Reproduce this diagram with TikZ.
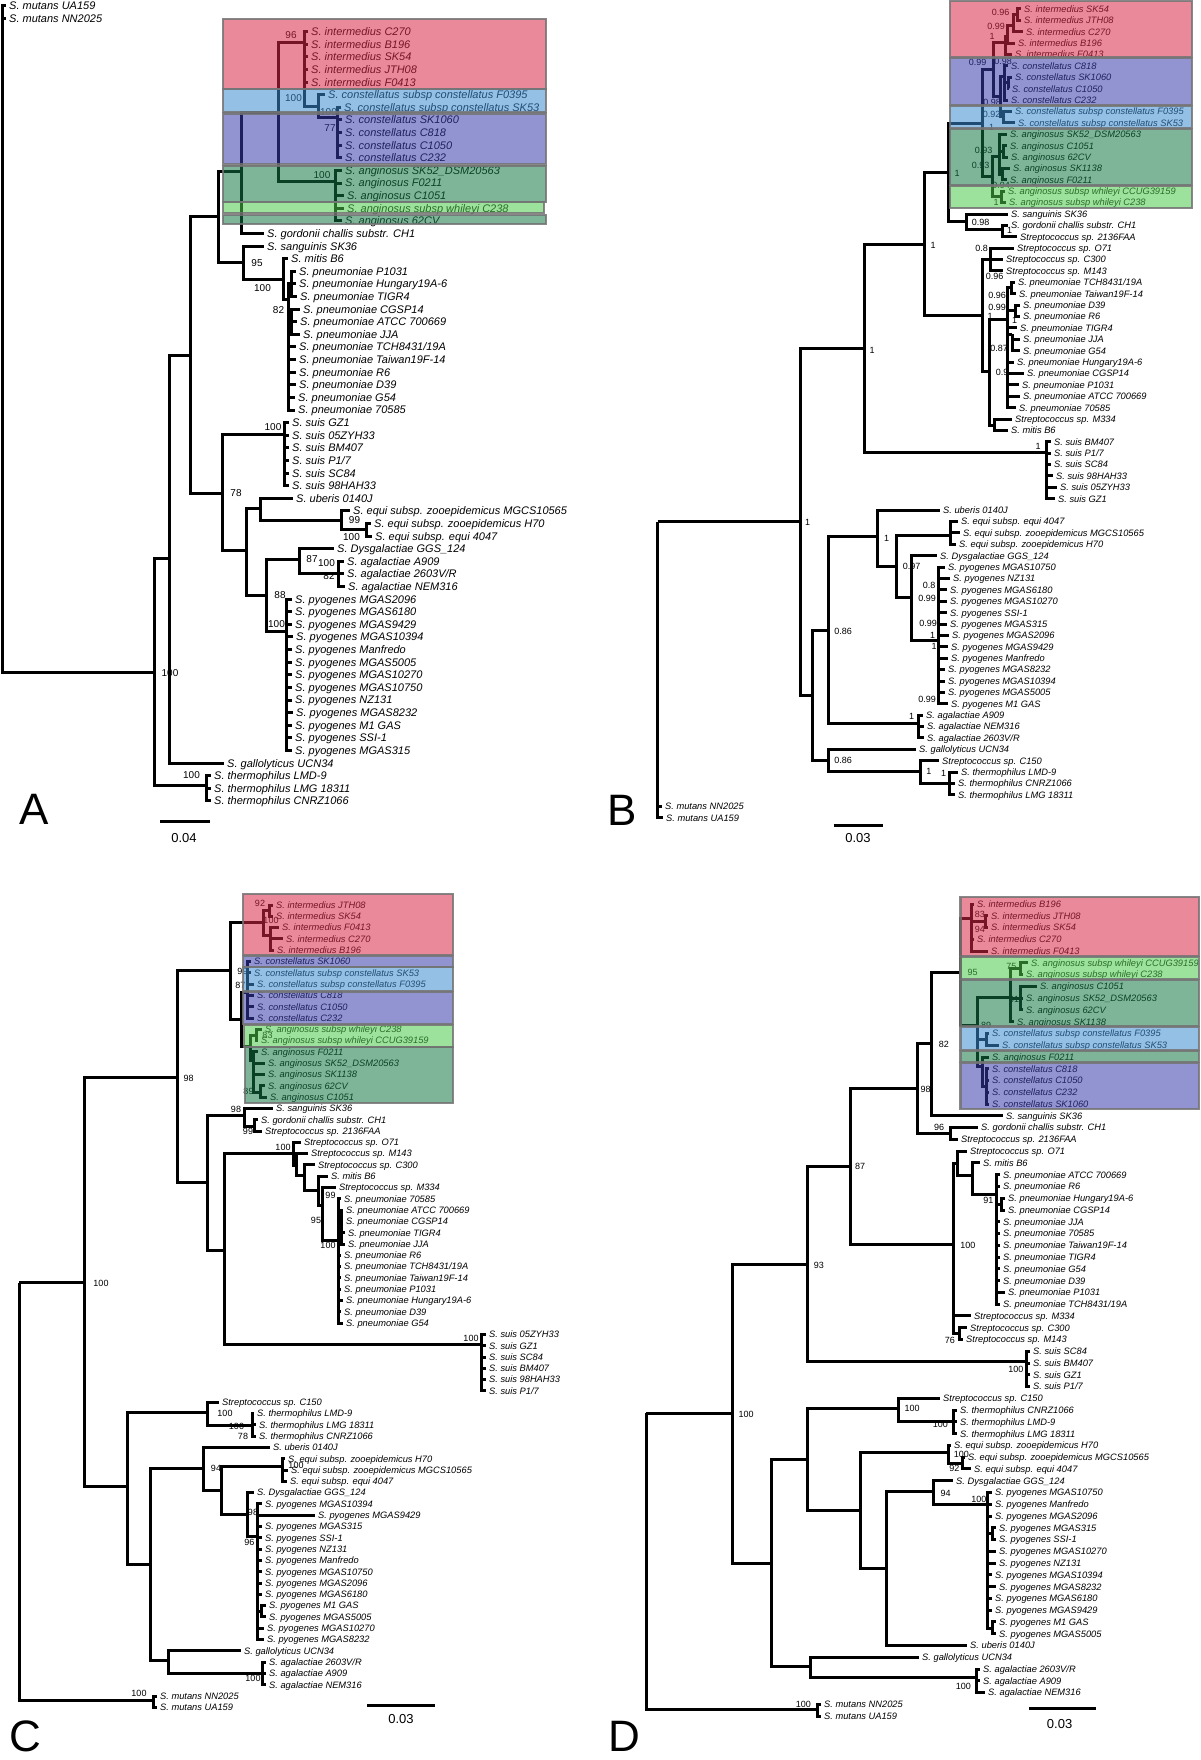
\documentclass[tikz,border=0pt]{standalone}
\usepackage{fontspec}
\setmainfont{Liberation Sans}
\usepackage{xcolor}
\usepackage{tikz}
\definecolor{cladered}{RGB}{215,40,70}
\definecolor{cladeblue}{RGB}{60,140,210}
\definecolor{cladepurple}{RGB}{55,60,170}
\definecolor{cladegreen}{RGB}{20,120,70}
\definecolor{cladelime}{RGB}{75,200,75}
\newcommand\lfA{\fontsize{11}{13}\selectfont\itshape}
\newcommand\lfB{\fontsize{9.3}{11}\selectfont\itshape}
\newcommand\bsA{\fontsize{10}{12}\selectfont}
\newcommand\bsB{\fontsize{9}{11}\selectfont}

\begin{document}
\begin{tikzpicture}[x=1pt,y=-1pt,
  br/.style={line width=3pt},
  leafA/.style={anchor=west,inner xsep=3pt,inner ysep=0pt,text height=7.9pt,text depth=0pt,font=\lfA},
  leafB/.style={anchor=west,inner xsep=3pt,inner ysep=0pt,text height=6.7pt,text depth=0pt,font=\lfB},
  supA/.style={inner sep=0pt,font=\bsA},
  supB/.style={inner sep=0pt,font=\bsB},
  clade/.style={fill opacity=0.55,draw=black!55,draw opacity=0.85,line width=2.2pt},
  panel/.style={inner sep=0pt,font=\fontsize{44}{44}\selectfont},
  scalelbl/.style={inner sep=0pt,font=\fontsize{13}{15}\selectfont}]
\useasboundingbox (0,0) rectangle (1200,1760);

% panel A
\foreach \i/\xx/\nm in {0/308/{S. intermedius C270},1/308/{S. intermedius B196},2/308/{S. intermedius SK54},3/308/{S. intermedius JTH08},4/308/{S. intermedius F0413},
  5/325/{S. constellatus subsp constellatus F0395},6/341/{S. constellatus subsp constellatus SK53},
  7/342/{S. constellatus SK1060},8/342/{S. constellatus C818},9/342/{S. constellatus C1050},10/342/{S. constellatus C232},
  11/342/{S. anginosus SK52\_DSM20563},12/342/{S. anginosus F0211},13/344/{S. anginosus C1051},14/344/{S. anginosus subsp whileyi C238},15/342/{S. anginosus 62CV},
  16/264/{S. gordonii challis substr. CH1},17/264/{S. sanguinis SK36},18/288/{S. mitis B6},
  19/296/{S. pneumoniae P1031},20/296/{S. pneumoniae Hungary19A-6},21/297/{S. pneumoniae TIGR4},22/300/{S. pneumoniae CGSP14},23/297/{S. pneumoniae ATCC 700669},24/300/{S. pneumoniae JJA},25/296/{S. pneumoniae TCH8431/19A},26/296/{S. pneumoniae Taiwan19F-14},27/296/{S. pneumoniae R6},28/296/{S. pneumoniae D39},29/295/{S. pneumoniae G54},30/295/{S. pneumoniae 70585},
  31/289/{S. suis GZ1},32/289/{S. suis 05ZYH33},33/289/{S. suis BM407},34/289/{S. suis P1/7},35/289/{S. suis SC84},36/289/{S. suis 98HAH33},
  37/293/{S. uberis 0140J},38/350/{S. equi subsp. zooepidemicus MGCS10565},39/371/{S. equi subsp. zooepidemicus H70},40/372/{S. equi subsp. equi 4047},
  41/334/{S. Dysgalactiae GGS\_124},42/344/{S. agalactiae A909},43/344/{S. agalactiae 2603V/R},44/345/{S. agalactiae NEM316},
  45/292/{S. pyogenes MGAS2096},46/292/{S. pyogenes MGAS6180},47/292/{S. pyogenes MGAS9429},48/293/{S. pyogenes MGAS10394},49/292/{S. pyogenes Manfredo},50/292/{S. pyogenes MGAS5005},51/292/{S. pyogenes MGAS10270},52/292/{S. pyogenes MGAS10750},53/292/{S. pyogenes NZ131},54/293/{S. pyogenes MGAS8232},55/292/{S. pyogenes M1 GAS},56/292/{S. pyogenes SSI-1},57/292/{S. pyogenes MGAS315},
  58/224/{S. gallolyticus UCN34},59/211/{S. thermophilus LMD-9},60/211/{S. thermophilus LMG 18311},61/211/{S. thermophilus CNRZ1066}}
  \node[leafA] (Al\i) at (\xx,{31.7+12.61*\i}) {\nm};
\node[leafA] (Am1) at (6,6) {S. mutans UA159};
\node[leafA] (Am2) at (6,19) {S. mutans NN2025};

\coordinate (Ar) at (2,400);
\coordinate (An1) at (154,672);
\coordinate (An2) at (169,558);
\coordinate (An3) at (190,355);
\coordinate (An4) at (218,217);
\coordinate (An5) at (222,493);
\coordinate (An6) at (241,172);
\coordinate (An7) at (243,263);
\coordinate (An8) at (278,113);
\coordinate (An9) at (304,43);
\coordinate (An10) at (318.5,107);
\coordinate (An11) at (337.7,118);
\coordinate (Ang) at (335,182);
\coordinate (An7b) at (283.5,280);
\coordinate (Apn) at (288.5,300);
\coordinate (Ap1) at (291.5,284);
\coordinate (Ap2) at (291.5,321.7);
\coordinate (Asu) at (284.6,434);
\coordinate (An5b) at (246,550);
\coordinate (An5c) at (260.4,508);
\coordinate (An5d) at (266.5,595);
\coordinate (Aeq) at (341.5,520);
\coordinate (Aeq2) at (366.5,529.8);
\coordinate (Ady) at (299,559);
\coordinate (Aag) at (338.5,573.9);
\coordinate (Apy) at (286.5,631);
\coordinate (Ath) at (206,785);

\draw[br] (Ar) |- (Am1.west) (Ar) |- (Am2.west) (Ar) |- (An1);
\draw[br] (An1) |- (An2) (An1) |- (Ath);
\draw[br] (An2) |- (An3) (An2) |- (Al58.west);
\draw[br] (An3) |- (An4) (An3) |- (An5);
\draw[br] (An4) |- (An6) (An4) |- (An7);
\draw[br] (An6) |- (An8) (An6) |- (Al16.west);
\draw[br] (An8) |- (An9) (An8) |- (Ang);
\draw[br] (An9) |- (An10);
\foreach \k in {0,...,4} \draw[br] (An9) |- (Al\k.west);
\draw[br] (An10) |- (Al5.west) (An10) |- (An11);
\foreach \k in {6,...,10} \draw[br] (An11) |- (Al\k.west);
\foreach \k in {11,...,15} \draw[br] (Ang) |- (Al\k.west);
\draw[br] (An7) |- (Al17.west) (An7) |- (An7b);
\draw[br] (An7b) |- (Al18.west) (An7b) |- (Apn);
\draw[br] (Apn) |- (Ap1) (Apn) |- (Ap2);
\foreach \k in {19,20,21} \draw[br] (Ap1) |- (Al\k.west);
\foreach \k in {22,23,24} \draw[br] (Ap2) |- (Al\k.west);
\foreach \k in {25,...,30} \draw[br] (Apn) |- (Al\k.west);
\draw[br] (An5) |- (Asu) (An5) |- (An5b);
\foreach \k in {31,...,36} \draw[br] (Asu) |- (Al\k.west);
\draw[br] (An5b) |- (An5c) (An5b) |- (An5d);
\draw[br] (An5c) |- (Al37.west) (An5c) |- (Aeq);
\draw[br] (Aeq) |- (Al38.west) (Aeq) |- (Aeq2);
\draw[br] (Aeq2) |- (Al39.west) (Aeq2) |- (Al40.west);
\draw[br] (An5d) |- (Ady) (An5d) |- (Apy);
\draw[br] (Ady) |- (Al41.west) (Ady) |- (Aag);
\foreach \k in {42,43,44} \draw[br] (Aag) |- (Al\k.west);
\foreach \k in {45,...,57} \draw[br] (Apy) |- (Al\k.west);
\foreach \k in {59,60,61} \draw[br] (Ath) |- (Al\k.west);

\foreach \bn/\bx/\by/\bv in {1/291/35/96,2/293.5/98/100,3/328.5/112/100,4/330/128/77,5/322/175/100,6/257/263/95,7/262.5/288/100,8/278.5/310/82,
  9/273/427/100,10/236/493/78,11/354.5/520/99,12/351.5/537/100,13/312/559/87,14/326.5/563/100,15/329/576/82,16/280/595/88,17/276.5/624/100,
  18/170/673/100,19/191.5/775/100}
  \node[supA] (Ab\bn) at (\bx,\by) {\bv};

\draw[clade,fill=cladered] (223,19) rectangle (546,89);
\draw[clade,fill=cladeblue] (223,89) rectangle (546,112);
\draw[clade,fill=cladepurple] (223,113.5) rectangle (546,164.5);
\draw[clade,fill=cladegreen] (223,166) rectangle (546,202);
\draw[clade,fill=cladelime] (223,202) rectangle (544,213);
\draw[clade,fill=cladegreen] (223,215) rectangle (546,224);

\coordinate (Asb1) at (160,821);
\coordinate (Asb2) at (210,821);
\draw[br] (Asb1) -- (Asb2);
\node[scalelbl] (Asbl) at (184,838) {0.04};
\node[panel] (Alab) at (34.5,809) {A};

% panel B
\foreach \i/\xx/\nm in {0/1021/{S. intermedius SK54},1/1021/{S. intermedius JTH08},2/1023/{S. intermedius C270},3/1015/{S. intermedius B196},4/1012/{S. intermedius F0413},
  5/1008/{S. constellatus C818},6/1012/{S. constellatus SK1060},7/1009/{S. constellatus C1050},8/1008/{S. constellatus C232},
  9/1012/{S. constellatus subsp constellatus F0395},10/1015/{S. constellatus subsp constellatus SK53},
  11/1007/{S. anginosus SK52\_DSM20563},12/1007/{S. anginosus C1051},13/1008/{S. anginosus 62CV},14/1010/{S. anginosus SK1138},15/1007/{S. anginosus F0211},
  16/1005/{S. anginosus subsp whileyi CCUG39159},17/1006/{S. anginosus subsp whileyi C238},
  18/1008/{S. sanguinis SK36},19/1008/{S. gordonii challis substr. CH1},20/1017/{Streptococcus sp. 2136FAA},
  21/1014/{Streptococcus sp. O71},22/1003/{Streptococcus sp. C300},23/1003/{Streptococcus sp. M143},
  24/1015/{S. pneumoniae TCH8431/19A},25/1016/{S. pneumoniae Taiwan19F-14},26/1020/{S. pneumoniae D39},27/1020/{S. pneumoniae R6},28/1017/{S. pneumoniae TIGR4},29/1020/{S. pneumoniae JJA},30/1020/{S. pneumoniae G54},31/1014/{S. pneumoniae Hungary19A-6},32/1024/{S. pneumoniae CGSP14},33/1019/{S. pneumoniae P1031},34/1020/{S. pneumoniae ATCC 700669},35/1016/{S. pneumoniae 70585},
  36/1012/{Streptococcus sp. M334},37/1008/{S. mitis B6},
  38/1051/{S. suis BM407},39/1051/{S. suis P1/7},40/1051/{S. suis SC84},41/1053/{S. suis 98HAH33},42/1057/{S. suis 05ZYH33},43/1055/{S. suis GZ1},
  44/940/{S. uberis 0140J},45/958/{S. equi subsp. equi 4047},46/960/{S. equi subsp. zooepidemicus MGCS10565},47/956/{S. equi subsp. zooepidemicus H70},
  48/937/{S. Dysgalactiae GGS\_124},
  49/945/{S. pyogenes MGAS10750},50/950/{S. pyogenes NZ131},51/947/{S. pyogenes MGAS6180},52/947/{S. pyogenes MGAS10270},53/947/{S. pyogenes SSI-1},54/947/{S. pyogenes MGAS315},55/949/{S. pyogenes MGAS2096},56/948/{S. pyogenes MGAS9429},57/948/{S. pyogenes Manfredo},58/945/{S. pyogenes MGAS8232},59/945/{S. pyogenes MGAS10394},60/945/{S. pyogenes MGAS5005},61/948/{S. pyogenes M1 GAS},
  62/923/{S. agalactiae A909},63/924/{S. agalactiae NEM316},64/924/{S. agalactiae 2603V/R},
  65/916/{S. gallolyticus UCN34},66/939/{Streptococcus sp. C150},67/958/{S. thermophilus LMD-9},68/955/{S. thermophilus CNRZ1066},69/955/{S. thermophilus LMG 18311},
  70/662/{S. mutans NN2025},71/663/{S. mutans UA159}}
  \node[leafB] (Bl\i) at (\xx,{9+11.39*\i}) {\nm};

\coordinate (Bn0) at (657.7,521.7);
\coordinate (Bn1) at (800,521.7);
\coordinate (Bn2) at (864.6,348.3);
\coordinate (Bsu) at (1046,452.7);
\coordinate (Bn4) at (924,245);
\coordinate (Bn5) at (948,172.3);
\coordinate (Bn6) at (982.7,316);
\coordinate (Bc) at (982,123.3);
\coordinate (Bsg) at (966.5,221.7);
\coordinate (Bgo) at (1002,230);
\coordinate (Bic) at (993,70);
\coordinate (Bi4) at (1005.8,42.7);
\coordinate (Bi3) at (1007.7,37);
\coordinate (Bi2) at (1013,26);
\coordinate (Bi1) at (1017,14.7);
\coordinate (Bc1) at (1000,96.7);
\coordinate (Bc2) at (1004,76.7);
\coordinate (Bc3) at (1008,83);
\coordinate (Bcs) at (1003,117);
\coordinate (Bang) at (992.3,176.7);
\coordinate (Ba1) at (999,156.7);
\coordinate (Ba2) at (1003,151.4);
\coordinate (Ba3) at (1002,174.2);
\coordinate (Bw) at (1001,196.9);
\coordinate (Bst) at (990.4,259.6);
\coordinate (Bpm) at (989.6,371.7);
\coordinate (Bmm) at (994,425);
\coordinate (Bpn) at (1007.7,319.3);
\coordinate (Bp1) at (1011.5,288);
\coordinate (Bp2) at (1015,311);
\coordinate (Bp3) at (1012,334);
\coordinate (Bn3) at (812.7,695);
\coordinate (Bn7) at (828.8,630);
\coordinate (Bag) at (918.5,723.3);
\coordinate (Bn8) at (877.7,536.7);
\coordinate (Bn9) at (896,566.7);
\coordinate (Beq) at (950.8,535);
\coordinate (Bn10) at (911.5,597.3);
\coordinate (Bpy) at (938.5,640);
\coordinate (Bn11) at (828.8,760);
\coordinate (Bth) at (920.4,771);
\coordinate (Bth2) at (949,783.5);

\draw[br] (Bn0) -- (Bn1) (Bn0) |- (Bl70.west) (Bn0) |- (Bl71.west);
\draw[br] (Bn1) |- (Bn2) (Bn1) |- (Bn3);
\draw[br] (Bn2) |- (Bn4) (Bn2) |- (Bsu);
\foreach \k in {38,...,43} \draw[br] (Bsu) |- (Bl\k.west);
\draw[br] (Bn4) |- (Bn5) (Bn4) |- (Bn6);
\draw[br] (Bn5) |- (Bc) (Bn5) |- (Bsg);
\draw[br] (Bsg) |- (Bl18.west) (Bsg) |- (Bgo);
\draw[br] (Bgo) |- (Bl19.west) (Bgo) |- (Bl20.west);
\draw[br] (Bc) |- (Bic) (Bc) |- (Bang);
\draw[br] (Bic) |- (Bi4) (Bic) |- (Bc1);
\draw[br] (Bi4) |- (Bi3) (Bi4) |- (Bl4.west);
\draw[br] (Bi3) |- (Bi2) (Bi3) |- (Bl3.west);
\draw[br] (Bi2) |- (Bi1) (Bi2) |- (Bl2.west);
\draw[br] (Bi1) |- (Bl0.west) (Bi1) |- (Bl1.west);
\draw[br] (Bc1) |- (Bc2) (Bc1) |- (Bcs);
\draw[br] (Bc2) |- (Bl5.west) (Bc2) |- (Bc3) (Bc2) |- (Bl8.west);
\draw[br] (Bc3) |- (Bl6.west) (Bc3) |- (Bl7.west);
\draw[br] (Bcs) |- (Bl9.west) (Bcs) |- (Bl10.west);
\draw[br] (Bang) |- (Ba1) (Bang) |- (Bw);
\draw[br] (Ba1) |- (Bl11.west) (Ba1) |- (Ba2) (Ba1) |- (Ba3);
\draw[br] (Ba2) |- (Bl12.west) (Ba2) |- (Bl13.west);
\draw[br] (Ba3) |- (Bl14.west) (Ba3) |- (Bl15.west);
\draw[br] (Bw) |- (Bl16.west) (Bw) |- (Bl17.west);
\draw[br] (Bn6) |- (Bst) (Bn6) |- (Bpm);
\foreach \k in {21,22,23} \draw[br] (Bst) |- (Bl\k.west);
\draw[br] (Bpm) |- (Bpn) (Bpm) |- (Bmm);
\draw[br] (Bmm) |- (Bl36.west) (Bmm) |- (Bl37.west);
\draw[br] (Bpn) |- (Bp1) (Bpn) |- (Bp2) (Bpn) |- (Bp3);
\draw[br] (Bp1) |- (Bl24.west) (Bp1) |- (Bl25.west);
\draw[br] (Bp2) |- (Bl26.west) (Bp2) |- (Bl27.west);
\draw[br] (Bp3) |- (Bl29.west) (Bp3) |- (Bl30.west);
\foreach \k in {28,31,32,33,34,35} \draw[br] (Bpn) |- (Bl\k.west);
\draw[br] (Bn3) |- (Bn7) (Bn3) |- (Bn11);
\draw[br] (Bn7) |- (Bn8) (Bn7) |- (Bag);
\foreach \k in {62,63,64} \draw[br] (Bag) |- (Bl\k.west);
\draw[br] (Bn8) |- (Bl44.west) (Bn8) |- (Bn9);
\draw[br] (Bn9) |- (Beq) (Bn9) |- (Bn10);
\foreach \k in {45,46,47} \draw[br] (Beq) |- (Bl\k.west);
\draw[br] (Bn10) |- (Bl48.west) (Bn10) |- (Bpy);
\foreach \k in {49,...,61} \draw[br] (Bpy) |- (Bl\k.west);
\draw[br] (Bn11) |- (Bl65.west) (Bn11) |- (Bth);
\draw[br] (Bth) |- (Bl66.west) (Bth) |- (Bth2);
\foreach \k in {67,68,69} \draw[br] (Bth2) |- (Bl\k.west);

\foreach \bn/\bx/\by/\bv in {1/1000.5/12.7/0.96,2/996/26.7/0.99,3/992/36.7/1,4/977.5/62.3/0.99,5/1003/61.7/0.98,6/992/102.7/0.98,7/991.5/114/0.92,
  8/991.5/127.7/1,9/983.5/150/0.93,10/980.5/165.7/0.93,11/1001/185/0.94,12/996/202.3/1,13/957/173/1,14/980.5/222.7/0.98,15/1009.6/230/1,
  16/933/245.7/1,17/981.5/248.3/0.8,18/994.5/276.7/0.96,19/997/295/0.96,20/997/307.3/0.99,21/990/316/1,22/1014.6/320.7/1,23/999/348.7/0.87,
  24/1002/372.7/0.9,25/872/350/1,26/1038/446.7/1,27/807.7/522.3/1,28/886.5/538.3/1,29/911.5/566.7/0.97,30/929/585.5/0.8,31/927/598.3/0.99,
  32/928/623.7/0.99,33/932.7/635/1,34/934/646.7/1,35/927/699.3/0.99,36/843/631/0.86,37/911.5/716/1,38/843/760/0.86,39/928.8/771/1,40/943.5/773.3/1}
  \node[supB] (Bb\bn) at (\bx,\by) {\bv};

\draw[clade,fill=cladered] (950,1) rectangle (1192,57.3);
\draw[clade,fill=cladepurple] (950,58.3) rectangle (1192,105);
\draw[clade,fill=cladeblue] (950,106) rectangle (1192,128.3);
\draw[clade,fill=cladegreen] (950,129.3) rectangle (1192,185);
\draw[clade,fill=cladelime] (950,186) rectangle (1192,208.3);

\coordinate (Bsb1) at (833.5,825.7);
\coordinate (Bsb2) at (882.7,825.7);
\draw[br] (Bsb1) -- (Bsb2);
\node[scalelbl] (Bsbl) at (858,838) {0.03};
\node[panel] (Blab) at (622,810) {B};

% panel C
\foreach \i/\xx/\nm in {0/273/{S. intermedius JTH08},1/273/{S. intermedius SK54},2/279/{S. intermedius F0413},3/283/{S. intermedius C270},4/274/{S. intermedius B196},
  5/251/{S. constellatus SK1060},6/251/{S. constellatus subsp constellatus SK53},7/254/{S. constellatus subsp constellatus F0395},8/254/{S. constellatus C818},9/254/{S. constellatus C1050},10/254/{S. constellatus C232},
  11/262/{S. anginosus subsp whileyi C238},12/258/{S. anginosus subsp whileyi CCUG39159},13/258/{S. anginosus F0211},14/265/{S. anginosus SK52\_DSM20563},15/265/{S. anginosus SK1138},16/265/{S. anginosus 62CV},17/267/{S. anginosus C1051},
  18/273/{S. sanguinis SK36},19/258/{S. gordonii challis substr. CH1},20/262/{Streptococcus sp. 2136FAA},
  21/301/{Streptococcus sp. O71},22/308/{Streptococcus sp. M143},23/315/{Streptococcus sp. C300},24/328/{S. mitis B6},25/336/{Streptococcus sp. M334},
  26/341/{S. pneumoniae 70585},27/343/{S. pneumoniae ATCC 700669},28/343/{S. pneumoniae CGSP14},29/345/{S. pneumoniae TIGR4},30/345/{S. pneumoniae JJA},31/341/{S. pneumoniae R6},32/341/{S. pneumoniae TCH8431/19A},33/341/{S. pneumoniae Taiwan19F-14},34/341/{S. pneumoniae P1031},35/343/{S. pneumoniae Hungary19A-6},36/341/{S. pneumoniae D39},37/343/{S. pneumoniae G54},
  38/486/{S. suis 05ZYH33},39/486/{S. suis GZ1},40/486/{S. suis SC84},41/486/{S. suis BM407},42/486/{S. suis 98HAH33},43/486/{S. suis P1/7},
  44/219/{Streptococcus sp. C150},45/254/{S. thermophilus LMD-9},46/256/{S. thermophilus LMG 18311},47/256/{S. thermophilus CNRZ1066},
  48/270/{S. uberis 0140J},49/285/{S. equi subsp. zooepidemicus H70},50/288/{S. equi subsp. zooepidemicus MGCS10565},51/287/{S. equi subsp. equi 4047},
  52/254/{S. Dysgalactiae GGS\_124},53/262/{S. pyogenes MGAS10394},54/315/{S. pyogenes MGAS9429},55/262/{S. pyogenes MGAS315},56/262/{S. pyogenes SSI-1},57/262/{S. pyogenes NZ131},58/262/{S. pyogenes Manfredo},59/262/{S. pyogenes MGAS10750},60/262/{S. pyogenes MGAS2096},61/262/{S. pyogenes MGAS6180},62/266/{S. pyogenes M1 GAS},63/266/{S. pyogenes MGAS5005},64/264/{S. pyogenes MGAS10270},65/264/{S. pyogenes MGAS8232},
  66/241/{S. gallolyticus UCN34},67/266/{S. agalactiae 2603V/R},68/266/{S. agalactiae A909},69/266/{S. agalactiae NEM316},
  70/157/{S. mutans NN2025},71/157/{S. mutans UA159}}
  \node[leafB] (Cl\i) at (\xx,{905+11.3*\i}) {\nm};

\coordinate (Cn0) at (19.2,1282.7);
\coordinate (Cn1) at (84.6,1282.7);
\coordinate (Cmu) at (153.8,1700);
\coordinate (Cn2) at (177,1077.3);
\coordinate (Cn3) at (127,1486.7);
\coordinate (Cn4) at (230.8,970);
\coordinate (Cn5) at (207.7,1182.7);
\coordinate (Cint) at (263.5,922.7);
\coordinate (Ci1) at (269,910.7);
\coordinate (Ci2) at (270.4,935);
\coordinate (Cn6) at (241.5,1019.3);
\coordinate (Ccon) at (247.3,992.7);
\coordinate (Cang) at (250,1046.7);
\coordinate (Cw) at (256,1035);
\coordinate (Ca1) at (253,1060);
\coordinate (Ca2) at (260,1092);
\coordinate (Csg) at (244,1115);
\coordinate (Cgo) at (254,1126.7);
\coordinate (Cn7) at (224,1250);
\coordinate (Csu) at (481.5,1344);
\coordinate (Cn8) at (293,1153.3);
\coordinate (Cn9) at (296,1165);
\coordinate (Cn10) at (304,1175);
\coordinate (Cn11) at (318.5,1190);
\coordinate (Cn12) at (322.3,1205);
\coordinate (Cpn) at (338.5,1240);
\coordinate (Cp1) at (341,1221);
\coordinate (Cth) at (207.7,1412.3);
\coordinate (Cth2) at (252,1425);
\coordinate (Clo) at (150,1564.3);
\coordinate (Cu) at (203.8,1468.3);
\coordinate (Cx) at (221,1490);
\coordinate (Ceq) at (282.7,1466);
\coordinate (Cdp) at (247.3,1514);
\coordinate (Cpy) at (257,1536);
\coordinate (Cp2) at (261.5,1611);
\coordinate (Cga) at (168,1660);
\coordinate (Cag) at (262.7,1673.4);

\draw[br] (Cn0) |- (Cn1) (Cn0) |- (Cmu);
\draw[br] (Cmu) |- (Cl70.west) (Cmu) |- (Cl71.west);
\draw[br] (Cn1) |- (Cn2) (Cn1) |- (Cn3);
\draw[br] (Cn2) |- (Cn4) (Cn2) |- (Cn5);
\draw[br] (Cn4) |- (Cint) (Cn4) |- (Cn6);
\draw[br] (Cint) |- (Ci1) (Cint) |- (Ci2);
\draw[br] (Ci1) |- (Cl0.west) (Ci1) |- (Cl1.west);
\foreach \k in {2,3,4} \draw[br] (Ci2) |- (Cl\k.west);
\draw[br] (Cn6) |- (Ccon) (Cn6) |- (Cang);
\foreach \k in {5,...,10} \draw[br] (Ccon) |- (Cl\k.west);
\draw[br] (Cang) |- (Cw) (Cang) |- (Ca1);
\draw[br] (Cw) |- (Cl11.west) (Cw) |- (Cl12.west);
\foreach \k in {13,14,15} \draw[br] (Ca1) |- (Cl\k.west);
\draw[br] (Ca1) |- (Ca2);
\draw[br] (Ca2) |- (Cl16.west) (Ca2) |- (Cl17.west);
\draw[br] (Cn5) |- (Csg) (Cn5) |- (Cn7);
\draw[br] (Csg) |- (Cl18.west) (Csg) |- (Cgo);
\draw[br] (Cgo) |- (Cl19.west) (Cgo) |- (Cl20.west);
\draw[br] (Cn7) |- (Cn8) (Cn7) |- (Csu);
\foreach \k in {38,...,43} \draw[br] (Csu) |- (Cl\k.west);
\draw[br] (Cn8) |- (Cl21.west) (Cn8) |- (Cn9);
\draw[br] (Cn9) |- (Cl22.west) (Cn9) |- (Cn10);
\draw[br] (Cn10) |- (Cl23.west) (Cn10) |- (Cn11);
\draw[br] (Cn11) |- (Cl24.west) (Cn11) |- (Cn12);
\draw[br] (Cn12) |- (Cl25.west) (Cn12) |- (Cpn);
\draw[br] (Cpn) |- (Cp1);
\foreach \k in {27,...,30} \draw[br] (Cp1) |- (Cl\k.west);
\foreach \k in {26,31,32,33,34,35,36,37} \draw[br] (Cpn) |- (Cl\k.west);
\draw[br] (Cn3) |- (Cth) (Cn3) |- (Clo);
\draw[br] (Cth) |- (Cl44.west) (Cth) |- (Cth2);
\foreach \k in {45,46,47} \draw[br] (Cth2) |- (Cl\k.west);
\draw[br] (Clo) |- (Cu) (Clo) |- (Cga);
\draw[br] (Cu) |- (Cl48.west) (Cu) |- (Cx);
\draw[br] (Cx) |- (Ceq) (Cx) |- (Cdp);
\foreach \k in {49,50,51} \draw[br] (Ceq) |- (Cl\k.west);
\draw[br] (Cdp) |- (Cl52.west) (Cdp) |- (Cpy);
\foreach \k in {53,...,61,64,65} \draw[br] (Cpy) |- (Cl\k.west);
\draw[br] (Cpy) |- (Cp2);
\draw[br] (Cp2) |- (Cl62.west) (Cp2) |- (Cl63.west);
\draw[br] (Cga) |- (Cl66.west) (Cga) |- (Cag);
\foreach \k in {67,68,69} \draw[br] (Cag) |- (Cl\k.west);

\foreach \bn/\bx/\by/\bv in {1/260/903.3/92,2/271/920/100,3/242.5/971.7/99,4/240.3/985.3/87,5/267.5/1035/83,6/248.5/1091/89,7/188.7/1078.3/98,
  8/236/1109.3/98,9/248/1131.7/99,10/283/1147.7/100,11/330.5/1195/99,12/316/1220/95,13/328/1245/100,14/471/1338.3/100,15/101/1283.3/100,
  16/225/1413.3/100,17/236.5/1426.7/100,18/243/1436.7/78,19/216/1468.3/94,20/296/1465/100,21/253/1512.3/98,22/249.3/1542.7/96,
  23/253/1678.3/100,24/139/1693.3/100}
  \node[supB] (Cb\bn) at (\bx,\by) {\bv};

\draw[clade,fill=cladered] (243,894) rectangle (453,955);
\draw[clade,fill=cladepurple] (243,956) rectangle (453,967.3);
\draw[clade,fill=cladeblue] (243,967.3) rectangle (453,991);
\draw[clade,fill=cladepurple] (243,991.7) rectangle (453,1024);
\draw[clade,fill=cladelime] (244,1025) rectangle (453,1046.7);
\draw[clade,fill=cladegreen] (245,1047.3) rectangle (453,1102.7);

\coordinate (Csb1) at (367,1705.7);
\coordinate (Csb2) at (435.4,1705.7);
\draw[br] (Csb1) -- (Csb2);
\node[scalelbl] (Csbl) at (401,1719.3) {0.03};
\node[panel] (Clab) at (25.6,1736.7) {C};

% panel D
\foreach \i/\xx/\nm in {0/974/{S. intermedius B196},1/988/{S. intermedius JTH08},2/988/{S. intermedius SK54},3/974/{S. intermedius C270},4/988/{S. intermedius F0413},
  5/1028/{S. anginosus subsp whileyi CCUG39159},6/1023/{S. anginosus subsp whileyi C238},7/1037/{S. anginosus C1051},8/1023/{S. anginosus SK52\_DSM20563},9/1023/{S. anginosus 62CV},10/1014/{S. anginosus SK1138},
  11/989/{S. constellatus subsp constellatus F0395},12/999/{S. constellatus subsp constellatus SK53},13/989/{S. anginosus F0211},14/989/{S. constellatus C818},15/989/{S. constellatus C1050},16/989/{S. constellatus C232},17/989/{S. constellatus SK1060},
  18/1003/{S. sanguinis SK36},19/978/{S. gordonii challis substr. CH1},20/958/{Streptococcus sp. 2136FAA},21/967/{Streptococcus sp. O71},22/980/{S. mitis B6},
  23/1000/{S. pneumoniae ATCC 700669},24/1000/{S. pneumoniae R6},25/1005/{S. pneumoniae Hungary19A-6},26/1005/{S. pneumoniae CGSP14},27/1000/{S. pneumoniae JJA},28/1000/{S. pneumoniae 70585},29/1000/{S. pneumoniae Taiwan19F-14},30/1000/{S. pneumoniae TIGR4},31/1000/{S. pneumoniae G54},32/1000/{S. pneumoniae D39},33/1005/{S. pneumoniae P1031},34/1000/{S. pneumoniae TCH8431/19A},
  35/971/{Streptococcus sp. M334},36/967/{Streptococcus sp. C300},37/963/{Streptococcus sp. M143},
  38/1030/{S. suis SC84},39/1030/{S. suis BM407},40/1030/{S. suis GZ1},41/1030/{S. suis P1/7},
  42/940/{Streptococcus sp. C150},43/957/{S. thermophilus CNRZ1066},44/957/{S. thermophilus LMD-9},45/957/{S. thermophilus LMG 18311},
  46/951/{S. equi subsp. zooepidemicus H70},47/965/{S. equi subsp. zooepidemicus MGCS10565},48/971/{S. equi subsp. equi 4047},
  49/953/{S. Dysgalactiae GGS\_124},50/992/{S. pyogenes MGAS10750},51/992/{S. pyogenes Manfredo},52/992/{S. pyogenes MGAS2096},53/996/{S. pyogenes MGAS315},54/996/{S. pyogenes SSI-1},55/996/{S. pyogenes MGAS10270},56/996/{S. pyogenes NZ131},57/992/{S. pyogenes MGAS10394},58/996/{S. pyogenes MGAS8232},59/992/{S. pyogenes MGAS6180},60/992/{S. pyogenes MGAS9429},61/996/{S. pyogenes M1 GAS},62/996/{S. pyogenes MGAS5005},
  63/967/{S. uberis 0140J},64/919/{S. gallolyticus UCN34},65/980/{S. agalactiae 2603V/R},66/980/{S. agalactiae A909},67/985/{S. agalactiae NEM316},
  68/821/{S. mutans NN2025},69/821/{S. mutans UA159}}
  \node[leafB] (Dl\i) at (\xx,{904+11.77*\i}) {\nm};

\coordinate (Dn0) at (646.2,1413.3);
\coordinate (Dn1) at (732,1413.3);
\coordinate (Dmu) at (817.3,1709.3);
\coordinate (Dn2) at (807.7,1264.3);
\coordinate (Dn3) at (771,1563.3);
\coordinate (Dsu) at (1026,1361);
\coordinate (Dn4) at (850,1166);
\coordinate (Dn5) at (917.3,1088.3);
\coordinate (Dn6) at (953,1244);
\coordinate (Dn7) at (931.5,1043.3);
\coordinate (Dgo) at (950.8,1133.3);
\coordinate (Dn8) at (960.8,972.7);
\coordinate (Dint) at (971.2,918.3);
\coordinate (Di1) at (985.8,921.7);
\coordinate (Dn9) at (977,1025);
\coordinate (Dang) at (1010.4,997.3);
\coordinate (Dw) at (1020.4,968.7);
\coordinate (Da2) at (1020.4,998);
\coordinate (Dcs) at (986.5,1039.3);
\coordinate (Dfc) at (982,1066.7);
\coordinate (Dcon) at (986.5,1086);
\coordinate (Dpm) at (957.7,1163.3);
\coordinate (Dmi) at (972.3,1175);
\coordinate (Dpn) at (996,1194);
\coordinate (Dhc) at (1001,1204.3);
\coordinate (Dcm) at (959.6,1333.3);
\coordinate (Dn10) at (807.7,1459.3);
\coordinate (Dth) at (898,1408.3);
\coordinate (Dth2) at (953,1421.9);
\coordinate (Dn11) at (860.4,1510.7);
\coordinate (Deq) at (948,1452.7);
\coordinate (Deq2) at (962.7,1463.1);
\coordinate (Dn12) at (886.5,1568.3);
\coordinate (Dn13) at (933.8,1491.7);
\coordinate (Dpy) at (987.7,1504);
\coordinate (Dp1) at (992.3,1533.7);
\coordinate (Dp2) at (992.3,1628);
\coordinate (Dga) at (810.4,1666.7);
\coordinate (Dag) at (976,1677.3);

\draw[br] (Dn0) |- (Dn1) (Dn0) |- (Dmu);
\draw[br] (Dmu) |- (Dl68.west) (Dmu) |- (Dl69.west);
\draw[br] (Dn1) |- (Dn2) (Dn1) |- (Dn3);
\draw[br] (Dn2) |- (Dn4) (Dn2) |- (Dsu);
\foreach \k in {38,...,41} \draw[br] (Dsu) |- (Dl\k.west);
\draw[br] (Dn4) |- (Dn5) (Dn4) |- (Dn6);
\draw[br] (Dn5) |- (Dn7) (Dn5) |- (Dgo);
\draw[br] (Dgo) |- (Dl19.west) (Dgo) |- (Dl20.west);
\draw[br] (Dn7) |- (Dn8) (Dn7) |- (Dl18.west);
\draw[br] (Dn8) |- (Dint) (Dn8) |- (Dn9);
\draw[br] (Dint) |- (Dl0.west) (Dint) |- (Di1) (Dint) |- (Dl3.west) (Dint) |- (Dl4.west);
\draw[br] (Di1) |- (Dl1.west) (Di1) |- (Dl2.west);
\draw[br] (Dn9) |- (Dang) (Dn9) |- (Dcs) (Dn9) |- (Dfc);
\draw[br] (Dang) |- (Dw) (Dang) |- (Da2) (Dang) |- (Dl10.west);
\draw[br] (Dw) |- (Dl5.west) (Dw) |- (Dl6.west);
\foreach \k in {7,8,9} \draw[br] (Da2) |- (Dl\k.west);
\draw[br] (Dcs) |- (Dl11.west) (Dcs) |- (Dl12.west);
\draw[br] (Dfc) |- (Dl13.west) (Dfc) |- (Dcon);
\foreach \k in {14,...,17} \draw[br] (Dcon) |- (Dl\k.west);
\draw[br] (Dn6) |- (Dpm) (Dn6) |- (Dl35.west) (Dn6) |- (Dcm);
\draw[br] (Dpm) |- (Dl21.west) (Dpm) |- (Dmi);
\draw[br] (Dmi) |- (Dl22.west) (Dmi) |- (Dpn);
\draw[br] (Dpn) |- (Dhc);
\foreach \k in {23,24,27,28,29,30,31,32,33,34} \draw[br] (Dpn) |- (Dl\k.west);
\draw[br] (Dhc) |- (Dl25.west) (Dhc) |- (Dl26.west);
\draw[br] (Dcm) |- (Dl36.west) (Dcm) |- (Dl37.west);
\draw[br] (Dn3) |- (Dn10) (Dn3) |- (Dga);
\draw[br] (Dn10) |- (Dth) (Dn10) |- (Dn11);
\draw[br] (Dth) |- (Dl42.west) (Dth) |- (Dth2);
\foreach \k in {43,44,45} \draw[br] (Dth2) |- (Dl\k.west);
\draw[br] (Dn11) |- (Deq) (Dn11) |- (Dn12);
\draw[br] (Deq) |- (Dl46.west) (Deq) |- (Deq2);
\draw[br] (Deq2) |- (Dl47.west) (Deq2) |- (Dl48.west);
\draw[br] (Dn12) |- (Dn13) (Dn12) |- (Dl63.west);
\draw[br] (Dn13) |- (Dl49.west) (Dn13) |- (Dpy);
\foreach \k in {50,51,52,55,56,57,58,59,60} \draw[br] (Dpy) |- (Dl\k.west);
\draw[br] (Dpy) |- (Dp1) (Dpy) |- (Dp2);
\draw[br] (Dp1) |- (Dl53.west) (Dp1) |- (Dl54.west);
\draw[br] (Dp2) |- (Dl61.west) (Dp2) |- (Dl62.west);
\draw[br] (Dga) |- (Dl64.west) (Dga) |- (Dag);
\foreach \k in {65,66,67} \draw[br] (Dag) |- (Dl\k.west);

\foreach \bn/\bx/\by/\bv in {1/979.8/914.3/83,2/979.8/929.3/94,3/1011.4/966.7/75,4/972.7/972.7/95,5/1014/999/91,6/986.2/1025.7/89,7/943.9/1044/82,
  8/925.6/1089/98,9/939/1127.3/96,10/860/1166.7/87,11/988.4/1200.7/91,12/967.8/1245/100,13/818.8/1265/93,14/949.9/1340.7/76,
  15/1015.8/1369.3/100,16/912/1408.3/100,17/746.2/1414.3/100,18/940.4/1424.3/100,19/961.4/1454/100,20/954.4/1468.3/92,
  21/945.6/1493.3/94,22/978.8/1499.3/100,23/963.4/1686.7/100,24/803.4/1704/100}
  \node[supB] (Db\bn) at (\bx,\by) {\bv};

\draw[clade,fill=cladered] (960.4,897.3) rectangle (1199,956);
\draw[clade,fill=cladelime] (960.4,957.3) rectangle (1199,979.3);
\draw[clade,fill=cladegreen] (960.4,980) rectangle (1199,1025.7);
\draw[clade,fill=cladeblue] (960.4,1026.7) rectangle (1199,1050);
\draw[clade,fill=cladegreen] (960.4,1050.7) rectangle (1199,1061.7);
\draw[clade,fill=cladepurple] (960.4,1062.7) rectangle (1199,1109);

\coordinate (Dsb1) at (1028.8,1708.3);
\coordinate (Dsb2) at (1096.2,1708.3);
\draw[br] (Dsb1) -- (Dsb2);
\node[scalelbl] (Dsbl) at (1059.6,1724) {0.03};
\node[panel] (Dlab) at (624.6,1736) {D};
\end{tikzpicture}
\end{document}
